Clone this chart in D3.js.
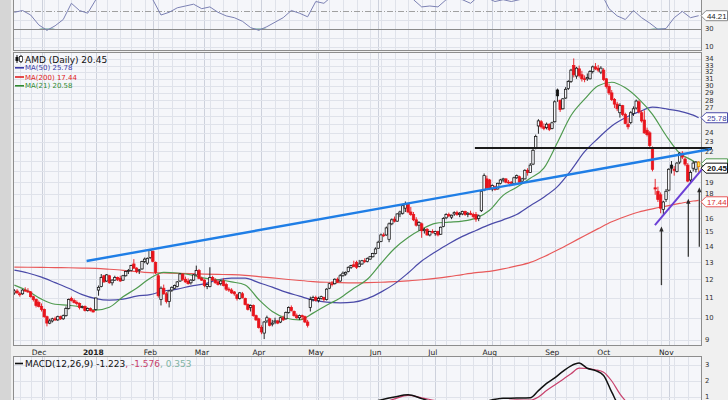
<!DOCTYPE html>
<html><head><meta charset="utf-8">
<script src="https://cdn.jsdelivr.net/npm/d3@7"></script>
<style>body{margin:0;background:#fff}svg{display:block;font-family:"DejaVu Sans",Verdana,sans-serif}</style>
</head><body><svg id="c" width="728" height="400"></svg>
<script>
// ---------------- DATA ----------------
const startDate = "2017-11-16", endDate = "2018-11-16";
const holidays = ["2017-11-23","2017-12-25","2018-01-01","2018-01-15","2018-02-19","2018-03-30","2018-05-28","2018-07-04","2018-09-03"];
const open = [11.25,11.35,11.2,11.2,11.4,11.35,11.3,11.05,10.9,10.75,10.55,10.4,10.05,9.75,9.85,9.95,9.9,10.05,9.95,10.1,10.45,10.95,10.85,10.75,10.7,10.5,10.55,10.35,10.45,10.35,
10.4,11.4,11.6,12.2,11.9,12.2,11.8,11.95,12.1,12.05,11.95,12.2,12.45,12.5,12.9,12.65,12.5,12.6,13.05,12.95,13.3,13.7,13.0,12.2,10.9,11.5,11.2,10.8,11.4,11.5,
11.6,11.9,12.3,12.0,11.9,11.8,11.95,12.25,12.5,12.05,11.95,11.6,11.6,12.1,11.95,11.85,11.75,11.9,11.7,11.45,11.4,11.3,11.15,10.95,11.2,10.95,10.65,10.5,10.6,10.1,
9.95,9.55,9.3,9.85,9.95,9.7,9.8,9.85,9.8,10.0,9.95,10.25,10.5,10.3,10.1,10.0,10.1,10.05,9.8,10.5,10.9,11.0,10.85,10.95,11.0,10.9,11.5,11.75,11.75,12.0,
11.9,12.2,12.3,12.45,12.7,12.85,13.0,12.75,12.9,13.1,13.05,13.2,13.35,13.55,13.9,14.35,14.8,14.8,14.5,15.6,15.95,15.8,16.35,16.4,16.8,17.1,16.5,16.3,15.9,15.5,
15.6,15.1,15.2,14.8,15.05,14.9,15.05,14.85,15.4,16.05,16.3,16.1,16.35,16.45,16.3,16.35,16.55,16.3,16.4,16.3,16.3,16.0,16.6,18.3,19.3,19.2,18.4,18.6,18.4,18.9,
19.2,19.3,19.0,19.0,18.9,19.4,19.5,19.1,19.3,20.1,19.9,20.7,22.3,24.8,25.3,24.7,24.6,25.0,24.5,25.3,29.4,28.0,26.9,28.3,29.6,30.6,33.0,31.4,32.5,31.6,
31.0,31.0,31.0,32.1,32.8,32.6,32.0,32.3,31.0,29.9,29.0,28.1,27.5,26.4,27.3,26.2,25.0,25.2,26.3,27.0,27.8,26.4,25.5,24.3,24.0,22.4,18.5,18.2,17.9,16.7,
17.5,18.3,20.6,20.2,20.0,20.9,21.8,21.2,20.6,19.2,20.3,20.2,20.9];
const high = [11.45,11.45,11.3,11.45,11.55,11.5,11.35,11.1,10.95,10.85,10.7,10.45,10.1,9.95,10.0,10.05,10.1,10.1,10.15,10.55,10.95,11.05,10.95,10.85,10.75,10.6,10.6,10.5,10.5,10.4,
11.0,11.65,12.3,12.25,12.3,12.25,12.0,12.2,12.15,12.2,12.25,12.5,12.6,12.85,13.2,12.7,12.6,13.1,13.3,13.3,13.85,13.75,13.05,12.3,11.6,11.7,11.3,11.4,11.6,11.7,
11.9,12.35,12.35,12.15,12.05,12.0,12.3,12.8,12.6,12.15,12.0,11.75,12.7,12.2,12.05,11.95,11.95,12.05,11.8,11.55,11.5,11.35,11.2,11.3,11.3,11.0,10.7,10.65,10.65,10.15,
10.0,9.65,9.85,10.1,10.0,9.9,10.0,9.9,10.05,10.1,10.3,10.55,10.6,10.35,10.2,10.15,10.15,10.1,9.9,11.05,11.1,11.1,11.05,11.1,11.05,11.5,11.8,11.9,12.05,12.1,
12.3,12.45,12.45,12.75,12.85,13.1,13.1,13.15,13.15,13.25,13.3,13.4,13.6,13.95,14.4,14.9,14.95,15.4,15.7,16.0,16.15,16.4,16.6,17.1,17.34,17.2,16.9,16.5,16.1,15.8,
15.7,15.3,15.3,15.1,15.2,15.1,15.1,15.4,16.1,16.4,16.45,16.3,16.55,16.6,16.5,16.6,16.6,16.5,16.6,16.45,16.5,16.3,18.3,19.8,19.6,19.3,18.8,18.7,18.95,19.3,
19.4,19.35,19.2,19.1,19.5,19.7,19.6,19.4,20.2,20.3,20.8,22.3,23.8,25.6,25.5,25.1,25.2,25.1,25.3,28.0,29.6,28.1,28.3,29.8,30.8,32.5,34.14,32.8,33.0,32.2,
31.5,31.8,32.3,33.0,33.4,33.1,32.9,32.6,31.1,30.3,29.4,28.3,27.8,27.6,27.4,26.4,25.8,26.6,27.2,28.1,28.0,26.7,26.7,24.6,24.2,22.5,19.3,18.6,18.1,17.4,
18.4,20.3,21.0,20.5,20.9,21.9,22.0,21.4,20.8,20.1,21.0,21.0,21.0];
const low = [11.15,11.2,11.05,11.15,11.3,11.25,11.0,10.8,10.5,10.5,10.3,10.0,9.6,9.7,9.78,9.85,9.85,9.9,9.9,10.05,10.4,10.8,10.7,10.6,10.4,10.45,10.3,10.3,10.3,10.25,
10.35,11.1,11.55,11.8,11.85,11.75,11.65,11.9,11.9,11.85,11.9,12.15,12.3,12.45,12.6,12.35,12.3,12.55,12.95,12.85,13.2,13.0,12.3,11.0,10.6,11.15,10.7,10.5,11.3,11.45,
11.55,11.85,11.9,11.8,11.7,11.7,11.9,12.2,12.0,11.9,11.55,11.45,11.55,11.9,11.75,11.65,11.65,11.6,11.35,11.3,11.2,11.1,10.85,10.9,10.95,10.6,10.35,10.3,10.05,9.85,
9.5,9.25,9.04,9.75,9.6,9.6,9.7,9.7,9.75,9.85,9.9,10.2,10.3,10.05,9.95,9.9,9.9,9.75,9.55,10.3,10.8,10.8,10.75,10.9,10.8,10.85,11.45,11.6,11.7,11.8,
11.85,12.15,12.2,12.4,12.6,12.7,12.6,12.7,12.85,12.95,13.0,13.15,13.3,13.5,13.85,14.3,14.65,14.75,14.3,15.5,15.7,15.75,16.1,16.3,16.5,16.4,16.2,15.8,15.4,15.1,
14.6,14.9,14.75,14.7,14.9,14.75,14.7,14.8,15.35,15.95,16.1,15.95,16.2,16.2,16.1,16.25,16.2,16.1,16.25,16.0,15.75,15.8,16.5,18.2,18.4,18.3,18.2,18.25,18.35,18.8,
19.0,18.9,18.85,18.8,18.85,19.3,18.95,18.9,19.25,19.6,19.85,20.6,22.2,23.9,24.5,24.3,24.4,24.2,24.4,25.2,27.8,26.5,26.8,28.2,29.4,30.4,31.2,31.0,31.2,30.6,
30.5,30.7,30.9,31.8,32.3,32.0,31.7,30.7,29.6,28.7,27.9,27.0,26.6,25.8,26.0,25.0,24.4,25.0,26.0,26.8,26.3,25.2,23.9,23.6,22.3,20.0,17.9,17.3,16.4,16.3,
17.3,18.2,19.8,19.6,19.9,20.7,21.2,20.5,19.0,19.0,20.0,19.9,19.9];
const close = [11.35,11.25,11.15,11.4,11.35,11.3,11.05,10.9,10.6,10.55,10.4,10.05,9.75,9.85,9.95,9.9,10.05,9.95,10.1,10.45,10.9,10.85,10.75,10.7,10.5,10.55,10.35,10.45,10.35,10.28,
10.98,11.55,12.1,11.85,12.25,11.8,11.95,12.1,12.0,11.9,12.2,12.45,12.5,12.8,12.65,12.45,12.55,13.05,13.2,13.25,13.74,13.05,12.4,11.1,11.5,11.2,10.8,11.35,11.55,11.65,
11.85,12.3,12.0,11.85,11.75,11.95,12.25,12.5,12.05,11.95,11.65,11.7,12.1,11.95,11.8,11.7,11.9,11.65,11.45,11.4,11.25,11.2,10.95,11.25,11.0,10.65,10.4,10.6,10.1,9.9,
9.55,9.35,9.8,10.0,9.65,9.75,9.85,9.75,10.0,9.9,10.25,10.5,10.35,10.1,10.0,10.1,10.05,9.8,9.65,10.9,11.0,10.85,10.95,11.05,10.9,11.45,11.75,11.7,12.0,11.85,
12.2,12.35,12.4,12.7,12.8,12.75,12.7,12.9,13.1,13.05,13.25,13.35,13.55,13.85,14.3,14.8,14.75,15.3,15.6,15.9,15.8,16.35,16.5,17.0,17.15,16.5,16.3,15.9,15.5,15.7,
15.1,15.2,14.8,15.05,15.0,15.05,14.8,15.35,16.0,16.3,16.2,16.25,16.45,16.3,16.4,16.55,16.3,16.4,16.3,16.15,15.95,16.2,18.2,19.6,18.5,18.4,18.7,18.35,18.9,19.2,
19.3,19.0,18.95,18.9,19.4,19.6,19.0,19.3,20.1,19.9,20.6,22.1,23.6,25.4,24.7,24.5,25.0,24.4,25.17,27.8,28.6,26.8,28.2,29.5,30.6,32.3,31.6,32.6,31.5,31.0,
30.9,31.2,32.1,32.8,32.5,32.3,32.6,30.89,29.9,29.0,28.1,27.5,26.9,27.3,26.2,25.1,24.7,26.4,26.9,27.9,26.5,25.4,24.0,23.8,22.6,20.2,18.4,17.5,16.8,17.3,
18.2,20.2,20.3,20.1,20.8,21.8,21.4,20.7,19.1,19.9,20.8,20.9,20.45];

const maStep = 5; // one reading every 5 sessions, plus the last session
const ma50 = [12.53,12.36,12.12,11.81,11.5,11.16,10.95,10.87,10.92,11.08,11.16,11.35,11.45,11.62,11.74,11.97,12.06,12.06,11.81,11.56,11.29,11.08,10.87,10.77,10.73,10.77,10.95,11.29,11.74,12.36,13.08,13.65,14.2,14.7,15.12,15.54,15.9,16.3,17.0,17.7,18.6,20.1,21.95,23.4,24.8,25.78,26.5,27.1,26.9,26.6,26.1,25.78];
const ma21 = [11.67,11.35,10.92,10.66,10.61,10.51,10.37,10.51,11.04,11.5,12.06,12.4,12.36,12.25,12.06,11.97,11.85,11.68,10.9,10.3,9.99,9.9,10.22,10.61,10.98,11.5,12.0,12.93,13.88,14.62,15.2,15.64,15.72,15.8,16.03,16.64,17.85,18.55,19.35,20.3,22.93,26.05,28.15,30.0,30.5,29.7,28.15,26.2,23.7,21.8,21.0,20.58];
const ma200 = [12.71,12.7,12.69,12.68,12.67,12.65,12.63,12.58,12.52,12.44,12.38,12.36,12.34,12.32,12.3,12.28,12.26,12.22,12.15,12.08,12.0,11.93,11.87,11.83,11.81,11.8,11.81,11.83,11.86,11.91,11.97,12.05,12.15,12.27,12.38,12.46,12.6,12.78,13.0,13.35,13.78,14.25,14.75,15.25,15.75,16.15,16.5,16.75,16.97,17.18,17.38,17.44];

const rsiStep = 3;
const rsi = [48,50,45,34,28,33,40,58,50,47,62,70,65,64,68,66,72,62,45,48,53,55,57,52,54,48,44,42,38,31,28,32,37,42,50,47,43,60,58,66,68,70,68,70,72,75,74,72,75,62,54,55,54,62,63,62,58,66,64,60,62,60,62,68,78,75,76,78,80,78,72,72,70,52,44,40,50,42,36,29,30,42,49,42,44.21];

const macdIdx = [0,10,20,30,40,50,60,70,80,90,100,110,120,130,135,140,145,150,155,160,165,170,175,180,185,190,193,196,199,202,205,208,211,214,217,220,223,226,230,235,240,245,250,252];
const macdLine = [-0.1,-0.2,-0.3,-0.15,0.25,0.45,0.05,0.1,-0.05,-0.4,-0.45,-0.15,0.25,0.6,0.82,1.0,1.14,0.9,0.65,0.55,0.55,0.5,0.78,0.92,0.93,0.95,1.4,1.85,2.2,2.6,2.95,3.12,2.8,2.65,2.35,1.3,0.4,0.2,-0.1,-0.6,-1.5,-1.3,-1.2,-1.223];
const signalLine = [-0.05,-0.15,-0.25,-0.25,0.05,0.35,0.25,0.1,0.0,-0.25,-0.4,-0.3,0.0,0.4,0.6,0.88,1.1,0.95,0.78,0.65,0.58,0.55,0.6,0.75,0.82,0.8,1.0,1.4,1.75,2.1,2.45,2.8,2.78,2.7,2.55,2.0,1.2,0.6,0.25,-0.2,-0.9,-1.3,-1.5,-1.576];

const priceTicks = [9,10,11,12,13,14,15,16,17,18,19,20,21,22,23,24,25,26,27,28,29,30,31,32,33,34];
const rsiTicks = [10,30,50];
const macdTicks = [1,2,3];
const monthNames = ["Jan","Feb","Mar","Apr","May","Jun","Jul","Aug","Sep","Oct","Nov","Dec"];

// hand-drawn annotations: [session index, price]
const blueTrend = [[26.6,13.08],[256.6,22.23]];
const blackLevel = [[169.6,22.34],[256.9,22.34]];
const purpleTrend = [[235.9,15.51],[254.3,20.52]];
const arrows = [[238.3,11.67,15.4],[248.2,13.35,17.57],[252.25,13.99,18.56]];

const legend = {title:"AMD (Daily) 20.45", ma50:"MA(50) 25.78", ma200:"MA(200) 17.44", ma21:"MA(21) 20.58"};

// ---------------- CHART ----------------
const parse = d3.utcParse("%Y-%m-%d"), fmt = d3.utcFormat("%Y-%m-%d");
const dates = d3.utcDays(parse(startDate), d3.utcDay.offset(parse(endDate),1))
  .filter(d => d.getUTCDay()%6!==0 && !holidays.includes(fmt(d)));
const N = Math.min(dates.length, close.length);

const W=728, H=400, L=13, R=702;
const svg = d3.select("#c");
const xs = d3.scaleLinear().domain([-0.5, N-0.5]).range([13, 700]);
const yP = d3.scaleLog().domain([9,34]).range([340,59.3]);
const yR = d3.scaleLinear().domain([30,50]).range([28.5,10.5]);
const yM = d3.scaleLinear().domain([0,3]).range([413,365]);

const BG="#f5f6fa", GRID="#dfe2ea", GRIDM="#cdd1dc", BORDER="#8d8d8d";
svg.append("rect").attr("width",W).attr("height",H).attr("fill","#f0f0f0");
svg.append("rect").attr("x",0).attr("y",0).attr("width",11).attr("height",H).attr("fill","#d6d6d6");

const panels = [
  {id:"rsi", top:-5, bot:50.5},
  {id:"main", top:52.5, bot:345.5},
  {id:"macd", top:356.5, bot:405}
];
const defs = svg.append("defs");
panels.forEach(p=>{
  svg.append("rect").attr("x",L+0.5).attr("y",p.top).attr("width",R-L-1).attr("height",p.bot-p.top).attr("fill",BG);
  defs.append("clipPath").attr("id","clip-"+p.id).append("rect").attr("x",L+1).attr("y",p.top).attr("width",R-L-2).attr("height",p.bot-p.top);
});

// vertical grid (weeks + months)
const weekStarts=[], monthStarts=[];
for(let i=1;i<N;i++){
  if(dates[i].getUTCDay()<dates[i-1].getUTCDay()) weekStarts.push(i);
  if(dates[i].getUTCMonth()!==dates[i-1].getUTCMonth()) monthStarts.push(i);
}
panels.forEach(p=>{
  const g=svg.append("g");
  weekStarts.forEach(i=>g.append("line").attr("x1",Math.round(xs(i))+0.5).attr("x2",Math.round(xs(i))+0.5).attr("y1",p.top).attr("y2",p.bot).attr("stroke",GRID));
  monthStarts.forEach(i=>g.append("line").attr("x1",Math.round(xs(i))+0.5).attr("x2",Math.round(xs(i))+0.5).attr("y1",p.top).attr("y2",p.bot).attr("stroke",GRIDM));
});

// ---- RSI panel
const gR = svg.append("g").attr("clip-path","url(#clip-rsi)");
[20,40].forEach(t=>gR.append("line").attr("x1",L).attr("x2",R).attr("y1",Math.round(yR(t))+0.5).attr("y2",Math.round(yR(t))+0.5).attr("stroke",GRID));
gR.append("line").attr("x1",L).attr("x2",R).attr("y1",Math.round(yR(10))+0.5).attr("y2",Math.round(yR(10))+0.5).attr("stroke",GRID);
gR.append("line").attr("x1",L).attr("x2",R).attr("y1",Math.round(yR(50))+0.5).attr("y2",Math.round(yR(50))+0.5).attr("stroke","#a0a0a0").attr("stroke-dasharray","6,2,1,2");
const rsiPts = rsi.map((v,k)=>[k*rsiStep, v]);
gR.append("path").datum(rsiPts).attr("fill","#5e9d8d")
  .attr("d", d3.area().x(d=>xs(d[0])).y0(yR(30)).y1(d=>yR(Math.min(d[1],30))));
gR.append("line").attr("x1",L).attr("x2",R).attr("y1",Math.round(yR(30))+0.5).attr("y2",Math.round(yR(30))+0.5).attr("stroke","#8a8a8a").attr("stroke-width",1.2);
gR.append("path").datum(rsiPts).attr("fill","none").attr("stroke","#7b80b3").attr("stroke-width",1)
  .attr("d", d3.line().x(d=>xs(d[0])).y(d=>yR(d[1])));
svg.append("line").attr("x1",L).attr("x2",R).attr("y1",50.5).attr("y2",50.5).attr("stroke",BORDER);
svg.append("line").attr("x1",L+0.5).attr("x2",L+0.5).attr("y1",0).attr("y2",50.5).attr("stroke",BORDER);
svg.append("line").attr("x1",R-0.5).attr("x2",R-0.5).attr("y1",0).attr("y2",50.5).attr("stroke",BORDER);

// ---- main panel
const gM = svg.append("g").attr("clip-path","url(#clip-main)");
priceTicks.forEach(t=>gM.append("line").attr("x1",L).attr("x2",R).attr("y1",Math.round(yP(t))+0.5).attr("y2",Math.round(yP(t))+0.5).attr("stroke",GRID));

const maIdx = k => Math.min(k*maStep, N-1);
const maLine = d3.line().curve(d3.curveMonotoneX).x((d,k)=>xs(maIdx(k))).y(d=>yP(d));
gM.append("path").datum(ma200).attr("fill","none").attr("stroke","#e8595a").attr("stroke-width",1.2).attr("d",maLine);
gM.append("path").datum(ma50).attr("fill","none").attr("stroke","#4a4aa8").attr("stroke-width",1.2).attr("d",maLine);
gM.append("path").datum(ma21).attr("fill","none").attr("stroke","#4f9a4f").attr("stroke-width",1.2).attr("d",maLine);

// candles
const gC = gM.append("g");
for(let i=0;i<N;i++){
  const x = xs(i);
  const up = close[i] >= open[i];
  const col = (i>0 && close[i]<close[i-1]) ? "#e8141c" : "#111";
  const last = i===N-1;
  gC.append("line").attr("x1",x).attr("x2",x).attr("y1",yP(high[i])).attr("y2",yP(low[i]))
    .attr("stroke", last?"#e07b00":col).attr("stroke-width",0.9);
  const yt = yP(Math.max(open[i],close[i])), yb = yP(Math.min(open[i],close[i]));
  gC.append("rect").attr("x",x-1.2).attr("y",yt).attr("width",2.4).attr("height",Math.max(0.8,yb-yt))
    .attr("fill", last ? "#ffe94a" : (up ? BG : col))
    .attr("stroke", last ? "#e07b00" : col).attr("stroke-width",0.75);
}
svg.append("rect").attr("x",L+0.5).attr("y",52.5).attr("width",R-L-1).attr("height",293).attr("fill","none").attr("stroke",BORDER);

// annotations (drawn over the axis edge)
const ann = svg.append("g");
const segLine = d3.line().x(d=>xs(d[0])).y(d=>yP(d[1]));
ann.append("path").datum(blackLevel).attr("d",segLine).attr("stroke","#1a1a1a").attr("stroke-width",2).attr("fill","none");
ann.append("path").datum(blueTrend).attr("d",segLine).attr("stroke","#1f7ee6").attr("stroke-width",2.4).attr("fill","none");
ann.append("path").datum(purpleTrend).attr("d",segLine).attr("stroke","#6b3fd6").attr("stroke-width",2).attr("fill","none");
arrows.forEach(a=>{
  const x=xs(a[0]), y0=yP(a[1]), y1=yP(a[2]);
  ann.append("line").attr("x1",x).attr("x2",x).attr("y1",y0).attr("y2",y1+4).attr("stroke","#3a3a3a").attr("stroke-width",1.3);
  ann.append("path").attr("d",`M${x},${y1} L${x-2.2},${y1+5} L${x+2.2},${y1+5} Z`).attr("fill","#2a2a2a");
});

// value boxes on the right axis (the MA(21) box sits under the price box, only its edge shows)
const boxes = [
  {y:yR(44.21), txt:"44.21", stroke:"#888", color:"#222"},
  {y:yP(ma50[ma50.length-1]), txt:ma50[ma50.length-1].toFixed(2), stroke:"#4a4aa8", color:"#3a3a9a"},
  {y:yP(ma21[ma21.length-1])-1.5, txt:null, stroke:"#4f9a4f", color:"#3d8a3d"},
  {y:yP(close[N-1])+1.5, txt:close[N-1].toFixed(2), stroke:"#111", color:"#111", bold:true},
  {y:yP(ma200[ma200.length-1])+1.5, txt:ma200[ma200.length-1].toFixed(2), stroke:"#e8595a", color:"#d83030"}
];
const covered = y => boxes.some(b => Math.abs(b.y - y) < 7);

// right axis tick labels (those hidden under a value box are not drawn, as in the original)
priceTicks.filter(t=>!covered(yP(t))).forEach(t=>svg.append("text").attr("x",705).attr("y",yP(t)+(t===34?-0.6:0)).attr("dy","0.35em").attr("font-size",6.8).attr("fill","#333").text(t));
rsiTicks.filter(t=>!covered(yR(t)) && yR(t)<50).forEach(t=>svg.append("text").attr("x",705).attr("y",yR(t)).attr("dy","0.35em").attr("font-size",6.8).attr("fill","#333").text(t));

boxes.forEach(b=>{
  svg.append("path").attr("d",`M${R-1},${b.y} L${R+4},${b.y-5} H${W-0.5} V${b.y+5} H${R+4} Z`)
    .attr("fill","#fff").attr("stroke",b.stroke).attr("stroke-width",1);
  if(b.txt) svg.append("text").attr("x",R+5).attr("y",b.y).attr("dy","0.36em")
    .attr("font-family","'Liberation Sans',Arial,sans-serif").attr("font-size",b.bold?8:7.8)
    .attr("font-weight",b.bold?"bold":"normal").attr("fill",b.color).text(b.txt);
});

// legend
const lg = svg.append("g");
lg.append("line").attr("x1",17).attr("x2",17).attr("y1",55).attr("y2",63).attr("stroke","#111");
lg.append("rect").attr("x",15.5).attr("y",57).attr("width",3).attr("height",4).attr("fill","#111");
lg.append("line").attr("x1",21).attr("x2",21).attr("y1",55).attr("y2",63).attr("stroke","#111");
lg.append("rect").attr("x",19.5).attr("y",56.5).attr("width",3).attr("height",5).attr("fill","#fff").attr("stroke","#111").attr("stroke-width",0.7);
lg.append("text").attr("x",25).attr("y",62.5).attr("font-size",9).attr("fill","#111").text(legend.title);
[[legend.ma50,"#3a3aa8",70.3],[legend.ma200,"#e02020",79.5],[legend.ma21,"#2f8a2f",88.3]].forEach(r=>{
  lg.append("line").attr("x1",15).attr("x2",24).attr("y1",r[2]-2.5).attr("y2",r[2]-2.5).attr("stroke",r[1]).attr("stroke-width",1.6);
  lg.append("text").attr("x",25).attr("y",r[2]).attr("font-size",7).attr("fill",r[1]).text(r[0]);
});

// x axis labels
monthStarts.forEach(i=>{
  const m = dates[i].getUTCMonth();
  svg.append("text").attr("x",xs(i)-2.5).attr("y",354.5).attr("text-anchor","middle").attr("font-size",7.5)
    .attr("font-weight", m===0?"bold":"normal").attr("fill","#222")
    .text(m===0 ? String(dates[i].getUTCFullYear()) : monthNames[m]);
});

// ---- MACD panel
const gD = svg.append("g").attr("clip-path","url(#clip-macd)");
macdTicks.forEach(t=>gD.append("line").attr("x1",L).attr("x2",R).attr("y1",Math.round(yM(t))+0.5).attr("y2",Math.round(yM(t))+0.5).attr("stroke",GRID));
const mLine = d3.line().curve(d3.curveMonotoneX).x((d,k)=>xs(macdIdx[k])).y(d=>yM(d));
gD.append("path").datum(signalLine).attr("fill","none").attr("stroke","#c8416c").attr("stroke-width",1.2).attr("d",mLine);
gD.append("path").datum(macdLine).attr("fill","none").attr("stroke","#111").attr("stroke-width",1.5).attr("d",mLine);
svg.append("line").attr("x1",L).attr("x2",R).attr("y1",356.5).attr("y2",356.5).attr("stroke",BORDER);
svg.append("line").attr("x1",L+0.5).attr("x2",L+0.5).attr("y1",356.5).attr("y2",H).attr("stroke",BORDER);
svg.append("line").attr("x1",R-0.5).attr("x2",R-0.5).attr("y1",356.5).attr("y2",H).attr("stroke",BORDER);
macdTicks.forEach(t=>svg.append("text").attr("x",705).attr("y",yM(t)).attr("dy","0.35em").attr("font-size",6.8).attr("fill","#333").text(t));
const mt = svg.append("text").attr("x",25).attr("y",366.5).attr("font-size",9);
svg.append("line").attr("x1",15).attr("x2",23).attr("y1",363.5).attr("y2",363.5).attr("stroke","#111").attr("stroke-width",1.6);
mt.append("tspan").attr("fill","#111").text("MACD(12,26,9) " + macdLine[macdLine.length-1].toFixed(3));
mt.append("tspan").attr("fill","#c8416c").text(", " + signalLine[signalLine.length-1].toFixed(3));
mt.append("tspan").attr("fill","#7fb3a3").text(", " + (macdLine[macdLine.length-1]-signalLine[signalLine.length-1]).toFixed(3));
</script></body></html>
